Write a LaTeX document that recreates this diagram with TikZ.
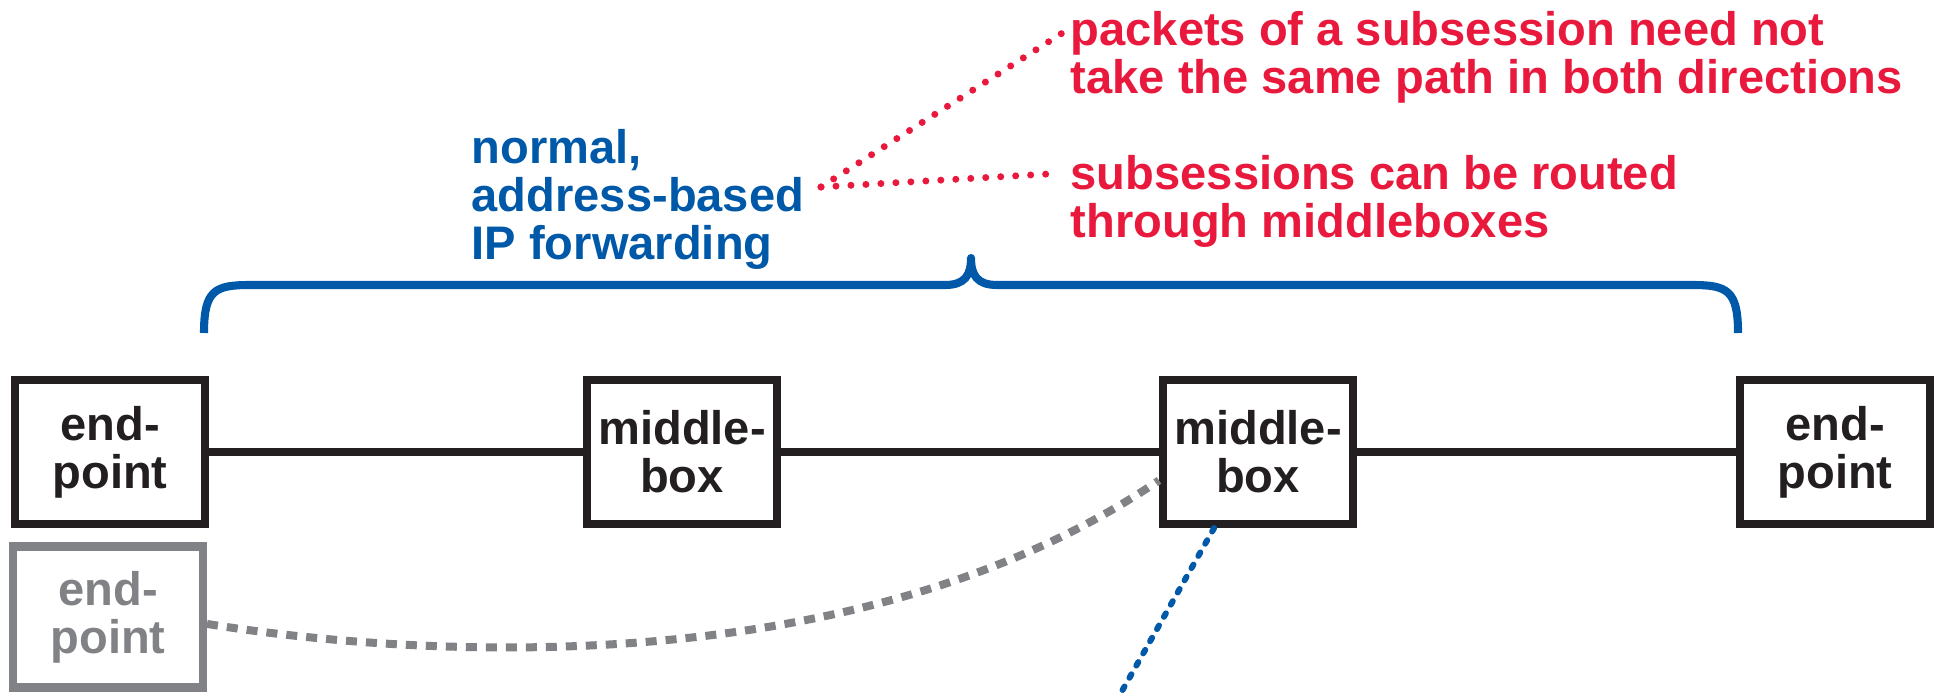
\documentclass[tikz,border=0pt]{standalone}
\usepackage{fontspec}
\setmainfont{Liberation Sans}
\usetikzlibrary{calc}
\definecolor{inkc}{HTML}{231F20}
\definecolor{greyc}{HTML}{808285}
\definecolor{fwdcol}{HTML}{0059A8}
\definecolor{notecol}{HTML}{E8193C}

\begin{document}
\begin{tikzpicture}[font=\fontsize{13.4}{13.6}\selectfont\bfseries,
  box/.style={draw=inkc,text=inkc,line width=2.3pt,minimum width=1.90cm,
              minimum height=1.44cm,inner sep=0pt,align=center},
  ghost/.style={box,draw=greyc,text=greyc,minimum height=1.41cm},
  wire/.style={inkc,line width=2.3pt},
  note/.style={text=notecol,align=left,anchor=north west,inner sep=0pt},
  reddots/.style={notecol,line width=0.07cm,line cap=round,
                  dash pattern=on 0pt off 0.15cm},
  bluedots/.style={fwdcol,line width=0.06cm,line cap=round,
                   dash pattern=on 0.04cm off 0.10cm},
  greydash/.style={greyc,line width=0.08cm,dash pattern=on 0.11cm off 0.09cm},
]
\useasboundingbox (0,0) rectangle (19.44,-6.93);

\node[box] (ep1) at (1.10,-4.52) {end-\\point};
\node[box] (mb1) at (6.82,-4.52) {middle-\\box};
\node[box] (mb2) at (12.58,-4.52) {middle-\\box};
\node[box] (ep2) at (18.35,-4.52) {end-\\point};
\node[ghost] (ep3) at (1.08,-6.17) {end-\\point};

\draw[wire] (ep1) -- (mb1);
\draw[wire] (mb1) -- (mb2);
\draw[wire] (mb2) -- (ep2);

\draw[greydash] (ep3.-4) .. controls (4.00,-6.55) and (8.50,-6.90) .. (mb2.196);

\coordinate (off) at (11.18,-6.98);
\draw[bluedots] (mb2.240) -- (off);

% forwarding brace
\draw[fwdcol,line width=2.3pt,line join=round]
  (2.04,-3.33) .. controls (2.04,-2.90) and (2.15,-2.85) .. (2.50,-2.85)
  -- (9.45,-2.85) .. controls (9.65,-2.85) and (9.71,-2.75) .. (9.71,-2.58)
  .. controls (9.71,-2.75) and (9.77,-2.85) .. (9.97,-2.85)
  -- (16.92,-2.85) .. controls (17.27,-2.85) and (17.38,-2.90) .. (17.38,-3.33);

\node[text=fwdcol,align=left,anchor=north west,inner sep=0pt] (fwd) at (4.71,-1.29)
  {normal,\\address-based\\IP forwarding};
\node[note] (pkt) at (10.70,-0.11)
  {packets of a subsession need not\\take the same path in both directions};
\node[note] (sub) at (10.70,-1.55)
  {subsessions can be routed\\through middleboxes};

\coordinate (split) at (8.21,-1.87);
\draw[reddots] (split) -- ($(pkt.north west)+(-0.03,-0.19)$);
\draw[reddots] (split) -- ($(sub.north west)+(-0.22,-0.19)$);
\end{tikzpicture}
\end{document}
